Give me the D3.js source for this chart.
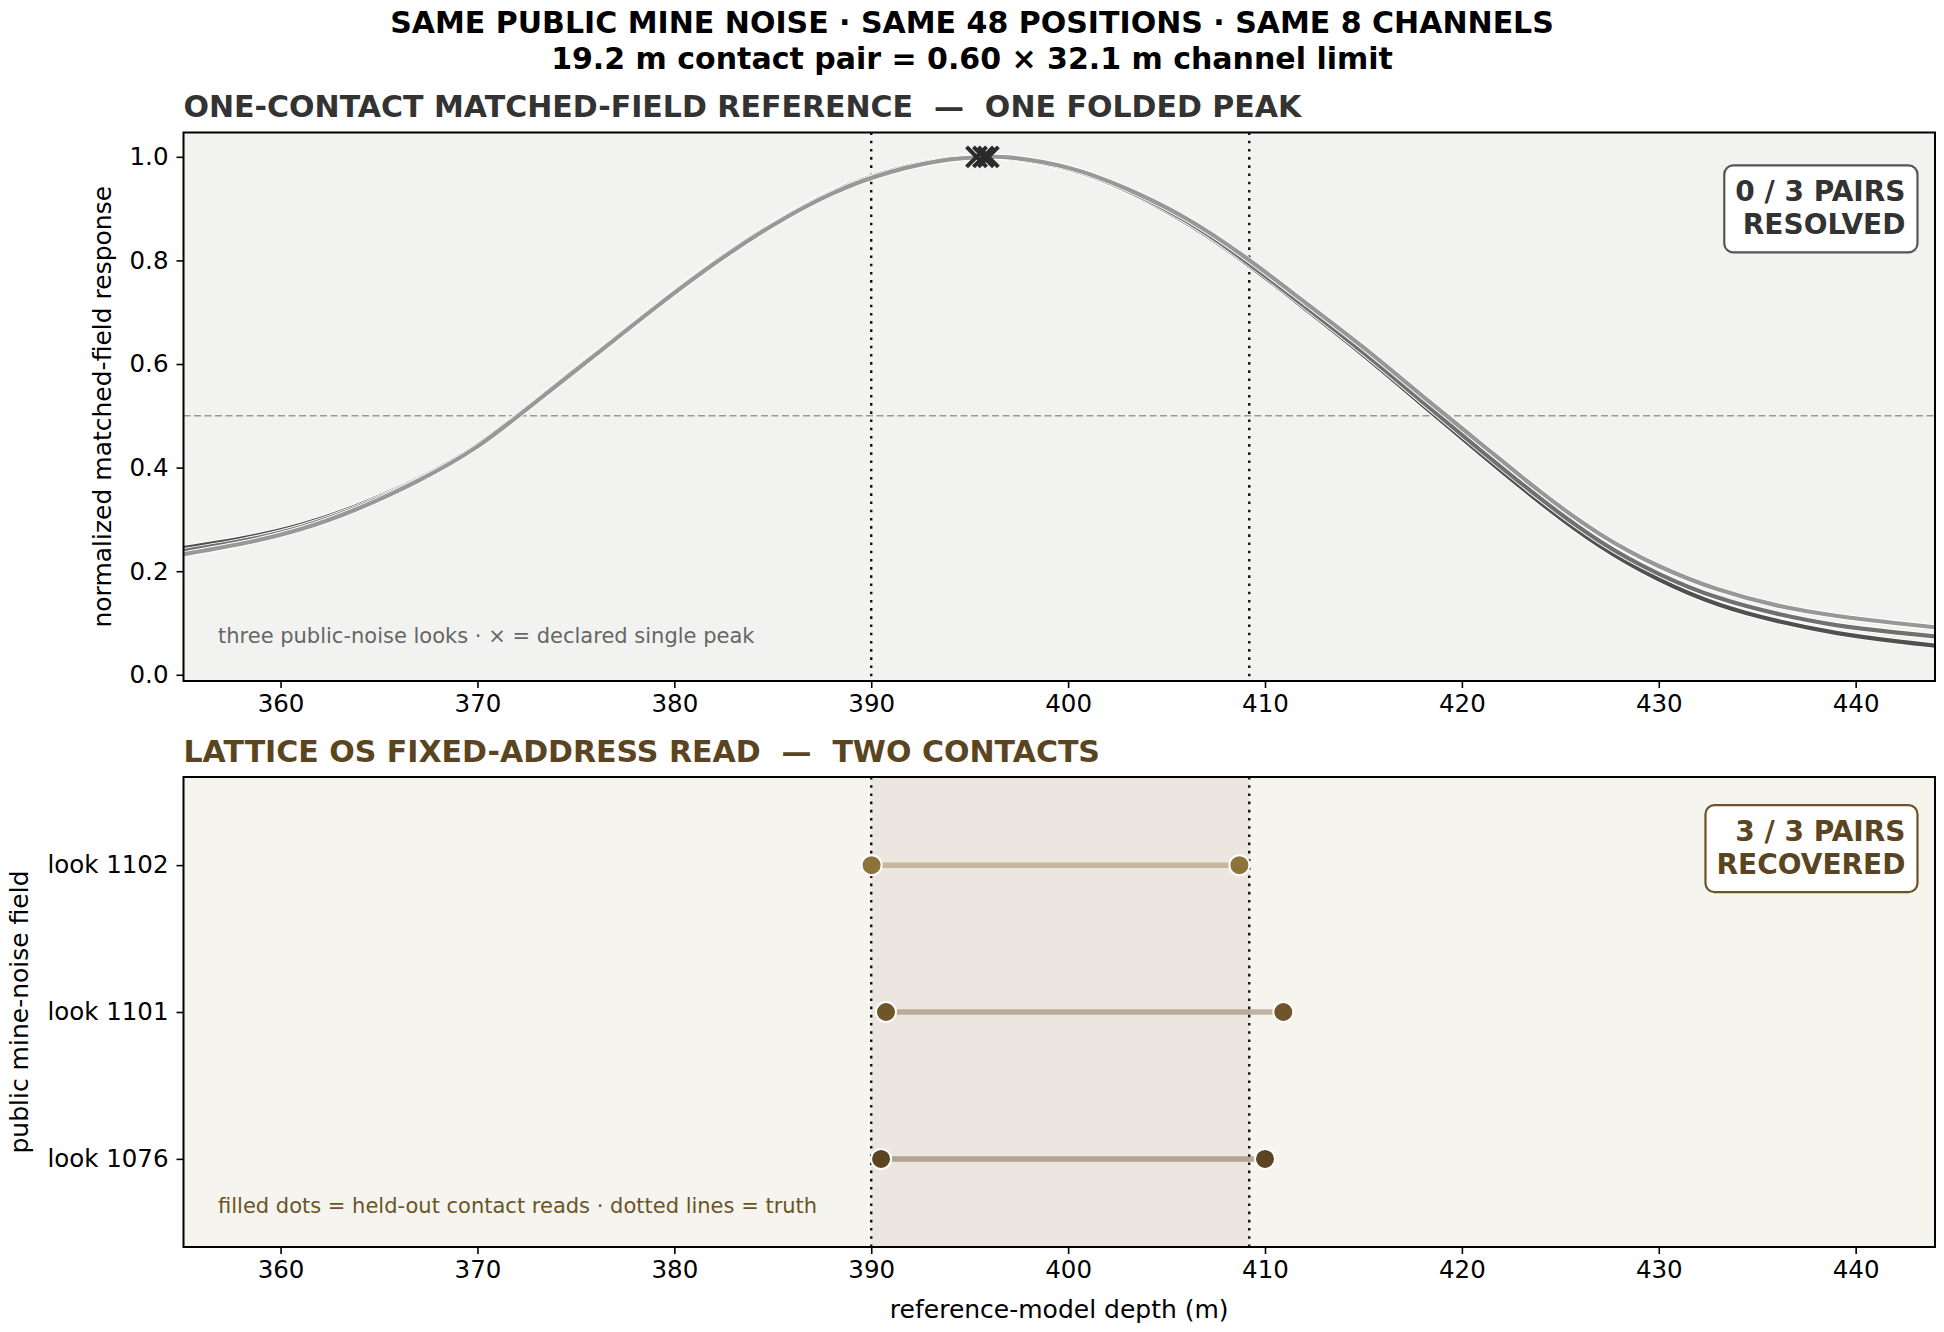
<!DOCTYPE html>
<html>
<head>
<meta charset="utf-8">
<script src="https://cdn.jsdelivr.net/npm/d3@7"></script>
<style>
  html, body { margin: 0; padding: 0; background: #fff; }
  svg { display: block; font-family: "DejaVu Sans", sans-serif; }
  text { white-space: pre; }
</style>
</head>
<body>
<svg id="chart" width="1944" height="1332"></svg>
<script>
// ---- data ----
const depthGrid = [355.1, 358, 361, 364, 367, 370, 373, 376, 379, 382, 385, 388, 391, 394, 395.6, 397,
                   400, 403, 406, 409, 412, 415, 418, 421, 424, 427, 430, 433, 436, 439, 442, 444.1];
const responseDark = [0.245, 0.263, 0.289, 0.328, 0.379, 0.444, 0.531, 0.621, 0.711, 0.796, 0.871, 0.932, 0.973, 0.996, 1.000, 0.998,
                      0.977, 0.934, 0.873, 0.796, 0.708, 0.617, 0.521, 0.425, 0.332, 0.249, 0.184, 0.136, 0.104, 0.081, 0.065, 0.056];
const responseMid  = [0.239, 0.258, 0.285, 0.325, 0.377, 0.443, 0.530, 0.620, 0.710, 0.795, 0.870, 0.931, 0.973, 0.996, 1.000, 0.998,
                      0.977, 0.935, 0.876, 0.799, 0.712, 0.622, 0.527, 0.432, 0.340, 0.258, 0.195, 0.149, 0.118, 0.096, 0.082, 0.074];
const responseLight = [0.233, 0.253, 0.281, 0.322, 0.375, 0.441, 0.528, 0.618, 0.708, 0.793, 0.868, 0.929, 0.971, 0.995, 0.999, 0.999,
                       0.979, 0.938, 0.881, 0.806, 0.720, 0.632, 0.538, 0.445, 0.353, 0.272, 0.210, 0.165, 0.134, 0.114, 0.100, 0.0915];
const peakDepths = [395.35, 395.7, 395.95];

const truthDepths = [390.0, 409.2];
const looks = ["look 1076", "look 1101", "look 1102"];
const readNear = [390.5, 390.75, 390.02];
const readFar = [410.0, 410.93, 408.7];
const lookColors = ["#5b441f", "#6f5528", "#8b733a"];

const xTicks = [360, 370, 380, 390, 400, 410, 420, 430, 440];
const yTicks = [0, 0.2, 0.4, 0.6, 0.8, 1.0];

// ---- layout ----
const svg = d3.select("#chart");
svg.append("rect").attr("width", 1944).attr("height", 1332).attr("fill", "#fff");

const left = 183.5, right = 1935;
const top1 = 132.5, bot1 = 681;
const top2 = 777, bot2 = 1247;

const x = d3.scaleLinear().domain([355.07, 444.03]).range([left, right]);
const y1 = d3.scaleLinear().domain([-0.012, 1.047]).range([bot1, top1]);
const y2 = d3.scaleLinear().domain([-0.6, 2.6]).range([bot2, top2]);

// titles
svg.append("text").attr("x", 972).attr("y", 33).attr("text-anchor", "middle")
   .attr("font-size", 30).attr("font-weight", "bold").attr("fill", "#000")
   .text("SAME PUBLIC MINE NOISE · SAME 48 POSITIONS · SAME 8 CHANNELS");
svg.append("text").attr("x", 972).attr("y", 69).attr("text-anchor", "middle")
   .attr("font-size", 30).attr("font-weight", "bold").attr("fill", "#000")
   .text("19.2 m contact pair = 0.60 × 32.1 m channel limit");

svg.append("text").attr("x", left).attr("y", 117).attr("font-size", 30).attr("font-weight", "bold")
   .attr("fill", "#333").text("ONE-CONTACT MATCHED-FIELD REFERENCE  —  ONE FOLDED PEAK");
svg.append("text").attr("x", left).attr("y", 762).attr("font-size", 30).attr("font-weight", "bold")
   .attr("fill", "#5a4520").text("LATTICE OS FIXED-ADDRESS READ  —  TWO CONTACTS");

// ---- top panel ----
const g1 = svg.append("g");
g1.append("rect").attr("x", left).attr("y", top1).attr("width", right - left).attr("height", bot1 - top1)
  .attr("fill", "#f2f2f0");

g1.append("line").attr("x1", left).attr("x2", right).attr("y1", y1(0.5)).attr("y2", y1(0.5))
  .attr("stroke", "#999").attr("stroke-width", 1.4).attr("stroke-dasharray", "7,3.5");

truthDepths.forEach(d => {
  g1.append("line").attr("x1", x(d)).attr("x2", x(d)).attr("y1", top1).attr("y2", bot1)
    .attr("stroke", "#111").attr("stroke-width", 2.4).attr("stroke-dasharray", "2.6,5.6");
});

const line1 = d3.line().x((d, i) => x(depthGrid[i])).y(d => y1(d)).curve(d3.curveNatural);
const curves = [
  {vals: responseDark, color: "#505050"},
  {vals: responseMid, color: "#707070"},
  {vals: responseLight, color: "#989898"}
];
svg.append("clipPath").attr("id", "clip1").append("rect")
  .attr("x", left).attr("y", top1).attr("width", right - left).attr("height", bot1 - top1);
const cg = g1.append("g").attr("clip-path", "url(#clip1)");
curves.forEach(c => {
  cg.append("path").attr("d", line1(c.vals)).attr("fill", "none").attr("stroke", "#fff")
    .attr("stroke-width", 6);
  cg.append("path").attr("d", line1(c.vals)).attr("fill", "none").attr("stroke", c.color)
    .attr("stroke-width", 4.2);
});

peakDepths.forEach(d => {
  const cx = x(d), cy = y1(1.0), s = 10;
  g1.append("path").attr("d", `M${cx - s},${cy - s}L${cx + s},${cy + s}M${cx - s},${cy + s}L${cx + s},${cy - s}`)
    .attr("stroke", "#2a2a2a").attr("stroke-width", 4).attr("fill", "none");
});

g1.append("text").attr("x", 218).attr("y", 643).attr("font-size", 21).attr("fill", "#666")
  .text("three public-noise looks · × = declared single peak");

// badge helper
function badge(g, lines, top, stroke, color) {
  const bx2 = left + 0.99 * (right - left);
  const t = g.append("text").attr("text-anchor", "end").attr("font-size", 28).attr("font-weight", "bold")
    .attr("fill", color);
  lines.forEach((s, i) => t.append("tspan").attr("x", bx2 - 12).attr("y", top + 36 + i * 32.6).text(s));
  const bb = t.node().getBBox();
  g.append("rect")
    .attr("x", bb.x - 11).attr("y", top).attr("width", bx2 - bb.x + 11).attr("height", 87)
    .attr("rx", 9).attr("fill", "#fff").attr("stroke", stroke).attr("stroke-width", 2.2);
  t.raise();
}
badge(g1, ["0 / 3 PAIRS", "RESOLVED"], top1 + 0.06 * (bot1 - top1), "#555", "#333");

g1.append("rect").attr("x", left).attr("y", top1).attr("width", right - left).attr("height", bot1 - top1)
  .attr("fill", "none").attr("stroke", "#000").attr("stroke-width", 2);

const ax1 = g1.append("g").attr("transform", `translate(0,${bot1})`)
  .call(d3.axisBottom(x).tickValues(xTicks).tickSize(7).tickPadding(7).tickFormat(d3.format("d")));
const ay1 = g1.append("g").attr("transform", `translate(${left},0)`)
  .call(d3.axisLeft(y1).tickValues(yTicks).tickSize(7).tickPadding(8).tickFormat(d3.format(".1f")));

svg.append("text").attr("transform", `translate(111,${(top1 + bot1) / 2}) rotate(-90)`)
  .attr("text-anchor", "middle").attr("font-size", 25).attr("fill", "#000")
  .text("normalized matched-field response");

// ---- bottom panel ----
const g2 = svg.append("g");
g2.append("rect").attr("x", left).attr("y", top2).attr("width", right - left).attr("height", bot2 - top2)
  .attr("fill", "#f5f4ef");
g2.append("rect").attr("x", x(truthDepths[0])).attr("y", top2)
  .attr("width", x(truthDepths[1]) - x(truthDepths[0])).attr("height", bot2 - top2)
  .attr("fill", "#ebe6df");
truthDepths.forEach(d => {
  g2.append("line").attr("x1", x(d)).attr("x2", x(d)).attr("y1", top2).attr("y2", bot2)
    .attr("stroke", "#111").attr("stroke-width", 2.4).attr("stroke-dasharray", "2.6,5.6");
});

looks.forEach((lk, i) => {
  g2.append("line").attr("x1", x(readNear[i])).attr("x2", x(readFar[i]))
    .attr("y1", y2(i)).attr("y2", y2(i))
    .attr("stroke", lookColors[i]).attr("stroke-opacity", 0.4).attr("stroke-width", 5.5);
  [readNear[i], readFar[i]].forEach(d => {
    g2.append("circle").attr("cx", x(d)).attr("cy", y2(i)).attr("r", 10)
      .attr("fill", lookColors[i]).attr("stroke", "#fff").attr("stroke-width", 2);
  });
});

g2.append("text").attr("x", 218).attr("y", 1213).attr("font-size", 21).attr("fill", "#6b5425")
  .text("filled dots = held-out contact reads · dotted lines = truth");

badge(g2, ["3 / 3 PAIRS", "RECOVERED"], top2 + 0.06 * (bot2 - top2), "#6b5325", "#5a4520");

g2.append("rect").attr("x", left).attr("y", top2).attr("width", right - left).attr("height", bot2 - top2)
  .attr("fill", "none").attr("stroke", "#000").attr("stroke-width", 2);

const ax2 = g2.append("g").attr("transform", `translate(0,${bot2})`)
  .call(d3.axisBottom(x).tickValues(xTicks).tickSize(7).tickPadding(7).tickFormat(d3.format("d")));
const ay2 = g2.append("g").attr("transform", `translate(${left},0)`)
  .call(d3.axisLeft(y2).tickValues([0, 1, 2]).tickSize(7).tickPadding(8).tickFormat(i => looks[i]));

svg.append("text").attr("transform", `translate(28,${(top2 + bot2) / 2}) rotate(-90)`)
  .attr("text-anchor", "middle").attr("font-size", 25).attr("fill", "#000")
  .text("public mine-noise field");
svg.append("text").attr("x", (left + right) / 2).attr("y", 1318).attr("text-anchor", "middle")
  .attr("font-size", 25).attr("fill", "#000").text("reference-model depth (m)");

// axis styling
[ax1, ay1, ax2, ay2].forEach(a => {
  a.select(".domain").remove();
  a.selectAll(".tick line").attr("stroke", "#000").attr("stroke-width", 1.6);
  a.selectAll(".tick text").attr("font-size", 24.5).attr("fill", "#000")
    .attr("font-family", "DejaVu Sans, sans-serif");
});
</script>
</body>
</html>
